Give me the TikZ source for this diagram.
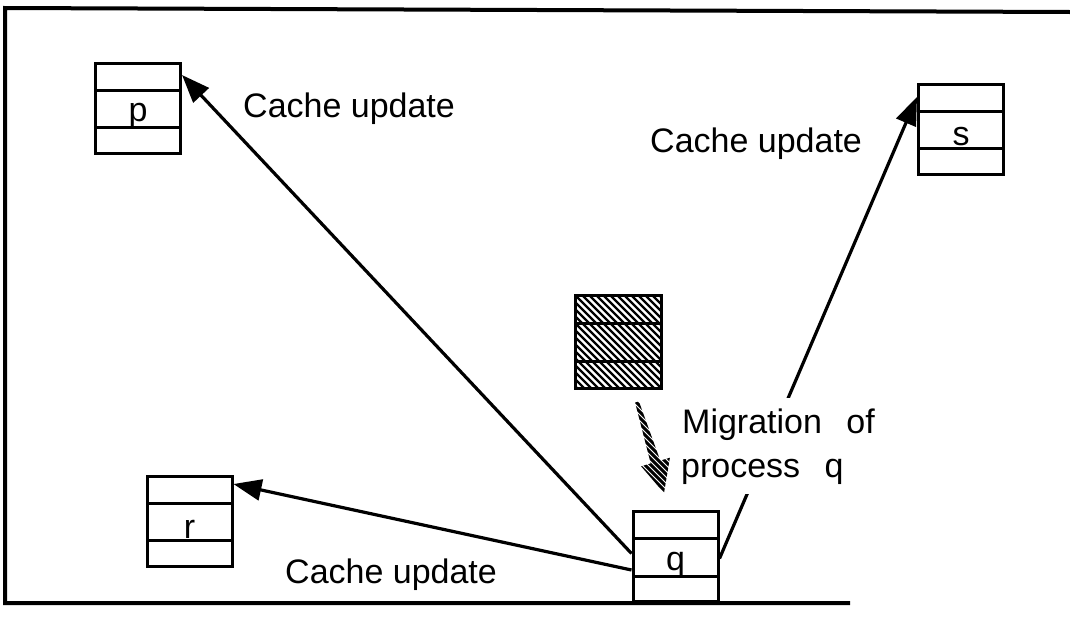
\documentclass[tikz,border=0pt]{standalone}
\usepackage{fontspec}
\setmainfont{Liberation Sans}
\usetikzlibrary{arrows.meta,calc}

\begin{document}
\begin{tikzpicture}[x=1pt,y=-1pt,
  txt/.style={font=\fontsize{34}{40}\selectfont, inner sep=0pt},
  lbl/.style={txt, anchor=base west},
  masked/.style={fill=white, inner xsep=2pt, inner ysep=10pt},
  rowlines/.style={path picture={
      \draw[line width=3pt]
        ($(path picture bounding box.north west)!0.3!(path picture bounding box.south west)$) --
        ($(path picture bounding box.north east)!0.3!(path picture bounding box.south east)$);
      \draw[line width=3pt]
        ($(path picture bounding box.north west)!0.72!(path picture bounding box.south west)$) --
        ($(path picture bounding box.north east)!0.72!(path picture bounding box.south east)$);
    }},
  cachebox/.style={draw, line width=3pt, minimum width=85pt, minimum height=90pt,
    inner sep=0pt, rowlines,
    label={[txt, anchor=base, yshift=-8pt]center:#1}},
  hatchbox/.style={draw, line width=3pt, minimum width=86pt, minimum height=93pt,
    inner sep=0pt,
    path picture={
      \foreach \k in {-105,-98,...,95}
        \draw[line width=2.2pt] ([xshift=\k pt]path picture bounding box.north west) -- ++(110,110);
      \draw[line width=3pt]
        ($(path picture bounding box.north west)!0.31!(path picture bounding box.south west)$) --
        ($(path picture bounding box.north east)!0.31!(path picture bounding box.south east)$);
      \draw[line width=3pt]
        ($(path picture bounding box.north west)!0.72!(path picture bounding box.south west)$) --
        ($(path picture bounding box.north east)!0.72!(path picture bounding box.south east)$);
    }},
  arr/.style={line width=3.2pt, -{Triangle[length=28pt,width=21pt]}},
]
\useasboundingbox (0,0) rectangle (1070,627);

% frame
\draw[line width=4pt] (1070,12) -- (5,8) -- (5,603) -- (850,603);

% caches
\node[cachebox=p] (p) at (138,108) {};
\node[cachebox=s] (s) at (961,129) {};
\node[cachebox=r] (r) at (189.5,521) {};
\node[cachebox=q] (q) at (675.5,556.5) {};
\node[hatchbox] (old) at (618,341.5) {};

% update connectors
\draw[arr] ([yshift=3pt]q.west) -- ([yshift=-13.5pt]p.north east);
\draw[arr] ([yshift=-13.5pt]q.west) -- ([yshift=-9.5pt]r.north east);
\draw[arr] ([yshift=-2pt]q.east) -- ([yshift=-14.5pt]s.north west);

% hatched migration arrow
\begin{scope}
  \clip (638.9,401.4) -- (660.3,460.6) -- (669.9,457.7) -- (664,493)
        -- (641.1,466.3) -- (650.7,463.4) -- (635.1,402.6) -- cycle;
  \foreach \k in {460,466,...,630}
    \draw[line width=3pt] (\k,340) -- ++(180,180);
\end{scope}

% labels
\node[lbl] (l1) at (243,117) {Cache update};
\node[lbl] (l2) at (650,152) {Cache update};
\node[lbl] (l3) at (285,583) {Cache update};
\node[lbl, masked] (m1) at (680,433) {Migration\hspace{0.72em}of};
\node[lbl, masked] (m2) at (679,477) {process\hspace{0.72em}q};
\end{tikzpicture}
\end{document}
